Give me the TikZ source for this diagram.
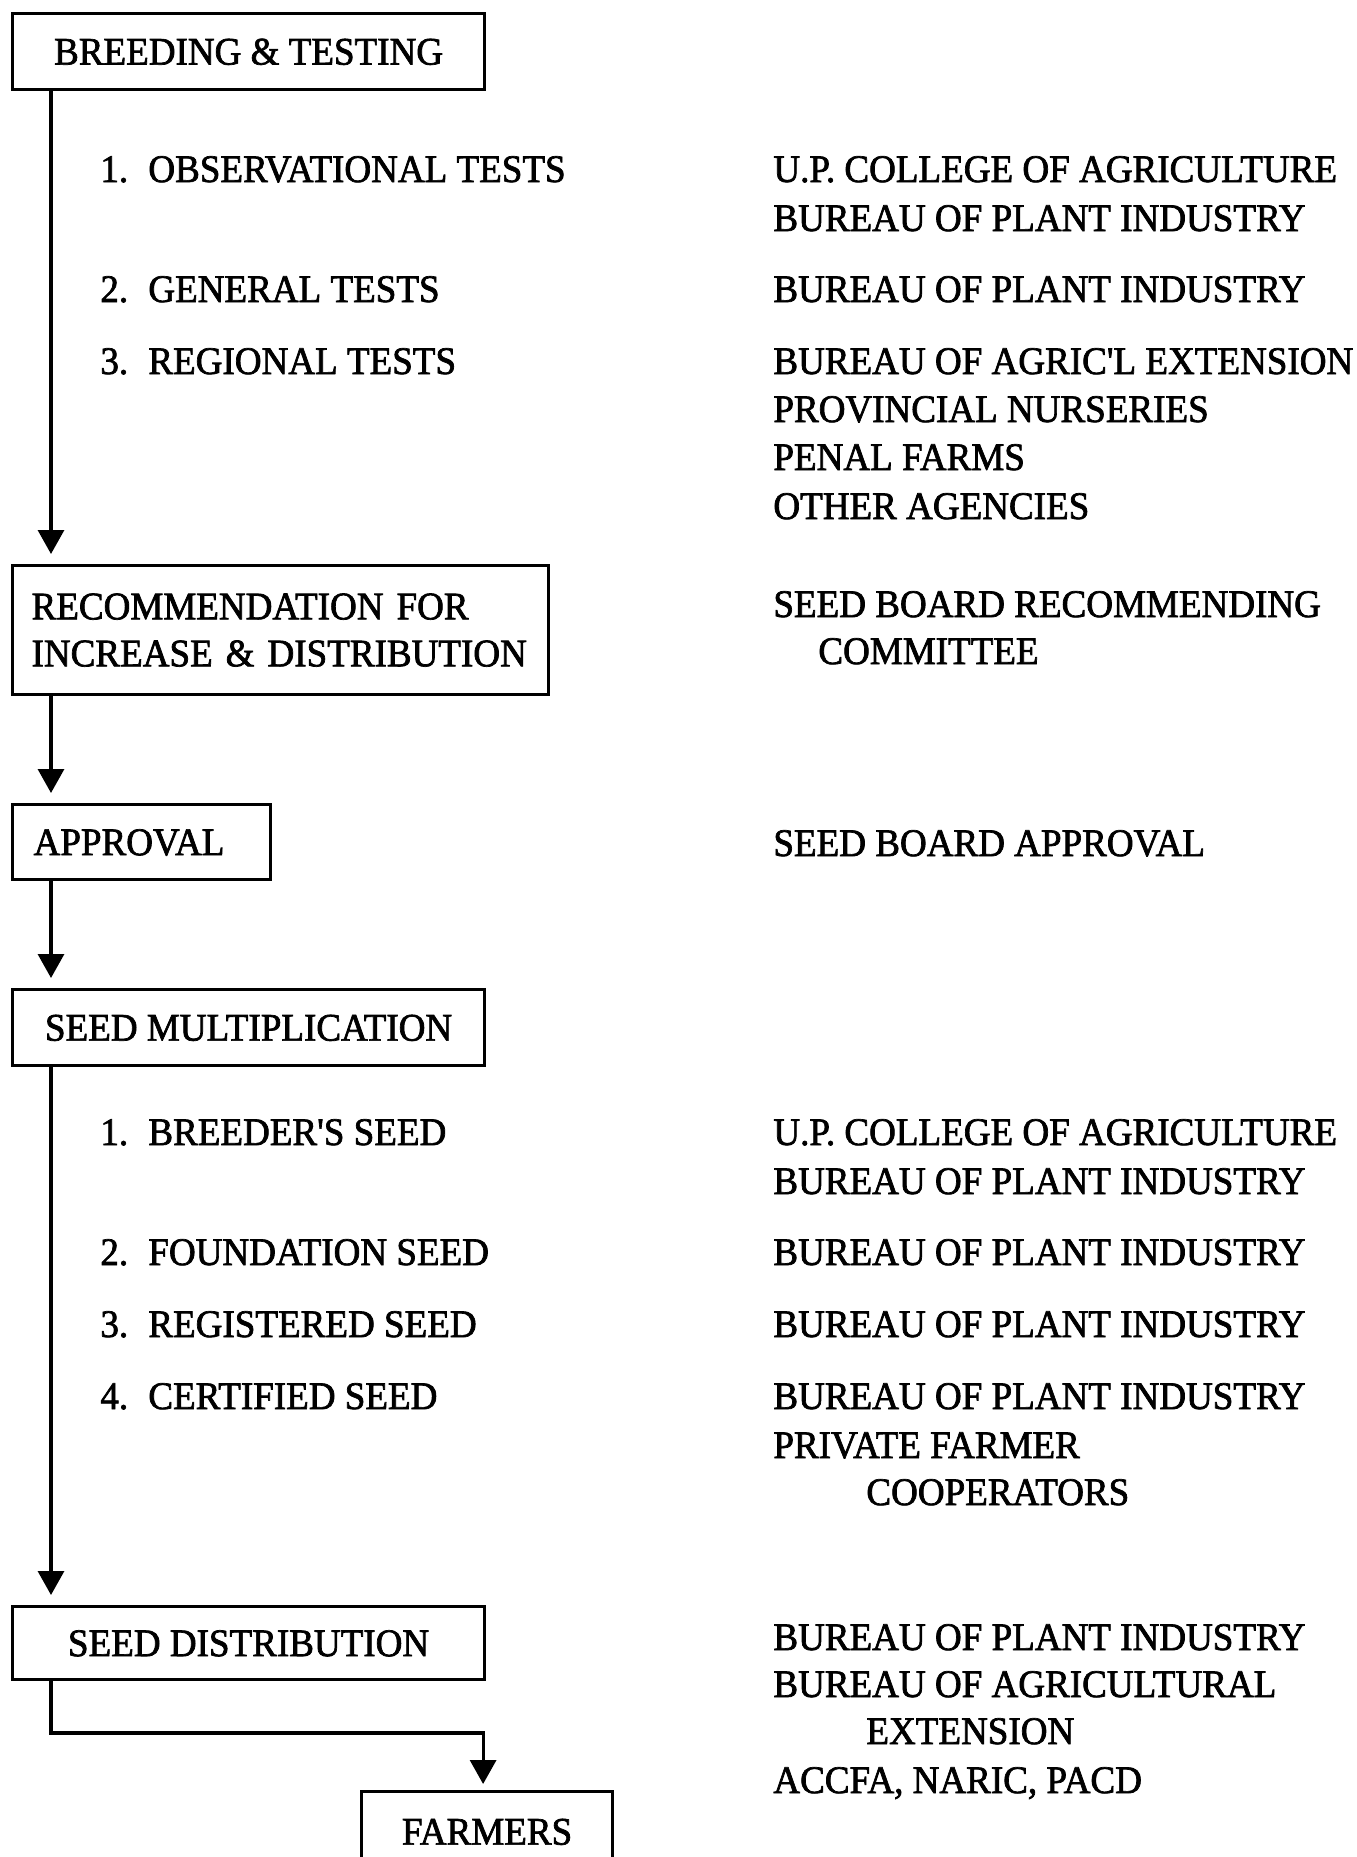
\documentclass[tikz,border=0pt]{standalone}
\usepackage{fontspec}
\setmainfont{Liberation Serif}[FakeStretch=0.95, FakeBold=1.8, Ligatures=TeXOff]
\usetikzlibrary{arrows.meta,calc}
\begin{document}
\begin{tikzpicture}[x=0.5pt,y=-0.5pt,
  font=\fontsize{19.5pt}{23.5pt}\selectfont,
  boxbase/.style={draw, line width=1.6pt, inner sep=0pt, anchor=north west},
  box/.style={boxbase, text height=13pt, text depth=0pt},
  lbl/.style={anchor=base west, inner sep=0pt},
  arr/.style={line width=1.6pt, -{Triangle[width=13pt,length=12pt]}}]
\useasboundingbox (0,0) rectangle (1356,1857);
\clip (0,0) rectangle (1356,1857);

% boxes
\node[box, minimum width=236pt, minimum height=38pt] (bt) at (11,12) {BREEDING \& TESTING};
\node[boxbase, minimum height=64.5pt, text width=249pt, inner xsep=9.5pt, align=left] (rec) at (11,564) {RECOMMENDATION FOR\\INCREASE \& DISTRIBUTION};
\node[box, minimum height=37.5pt, text width=108pt, inner xsep=10.5pt, align=left] (app) at (11,803) {APPROVAL};
\node[box, minimum width=236pt, minimum height=38pt] (sm) at (11,988) {SEED MULTIPLICATION};
\node[box, minimum width=236pt, minimum height=36.5pt] (sd) at (11,1605) {SEED DISTRIBUTION};
\node[box, minimum width=125.5pt, minimum height=40pt] (fa) at (360,1790) {FARMERS};

% connectors
\draw[arr] ([xshift=20pt]bt.south west) -- ([xshift=20pt,yshift=5pt]rec.north west);
\draw[arr] ([xshift=20pt]rec.south west) -- ([xshift=20pt,yshift=5pt]app.north west);
\draw[arr] ([xshift=20pt]app.south west) -- ([xshift=20pt,yshift=5pt]sm.north west);
\draw[arr] ([xshift=20pt]sm.south west) -- ([xshift=20pt,yshift=5pt]sd.north west);
\coordinate (bend) at (51,1733);
\draw[arr] ([xshift=20pt]sd.south west) -- (bend) -| ([xshift=-2pt,yshift=3pt]fa.north);

% stage items
\node[lbl] (t1) at (100,182) {\makebox[24pt][l]{1.}OBSERVATIONAL TESTS};
\node[lbl] (t2) at (100,302) {\makebox[24pt][l]{2.}GENERAL TESTS};
\node[lbl] (t3) at (100,374) {\makebox[24pt][l]{3.}REGIONAL TESTS};

\node[lbl] (s1) at (100,1145) {\makebox[24pt][l]{1.}BREEDER'S SEED};
\node[lbl] (s2) at (100,1265) {\makebox[24pt][l]{2.}FOUNDATION SEED};
\node[lbl] (s3) at (100,1337) {\makebox[24pt][l]{3.}REGISTERED SEED};
\node[lbl] (s4) at (100,1409) {\makebox[24pt][l]{4.}CERTIFIED SEED};

% agencies
\node[lbl] (a1) at (773,182) {U.P. COLLEGE OF AGRICULTURE};
\node[lbl] (a2) at (773,231) {BUREAU OF PLANT INDUSTRY};
\node[lbl] (a3) at (773,302) {BUREAU OF PLANT INDUSTRY};
\node[lbl] (a4) at (773,374) {BUREAU OF AGRIC'L EXTENSION};
\node[lbl] (a5) at (773,422) {PROVINCIAL NURSERIES};
\node[lbl] (a6) at (773,470) {PENAL FARMS};
\node[lbl] (a7) at (773,519) {OTHER AGENCIES};

\node[lbl] (r1) at (773,617) {SEED BOARD RECOMMENDING};
\node[lbl] (r2) at (818,664) {COMMITTEE};

\node[lbl] (p1) at (773,856) {SEED BOARD APPROVAL};

\node[lbl] (m1) at (773,1145) {U.P. COLLEGE OF AGRICULTURE};
\node[lbl] (m2) at (773,1194) {BUREAU OF PLANT INDUSTRY};
\node[lbl] (m3) at (773,1265) {BUREAU OF PLANT INDUSTRY};
\node[lbl] (m4) at (773,1337) {BUREAU OF PLANT INDUSTRY};
\node[lbl] (m5) at (773,1409) {BUREAU OF PLANT INDUSTRY};
\node[lbl] (m6) at (773,1458) {PRIVATE FARMER};
\node[lbl] (m7) at (866,1505) {COOPERATORS};

\node[lbl] (d1) at (773,1650) {BUREAU OF PLANT INDUSTRY};
\node[lbl] (d2) at (773,1697) {BUREAU OF AGRICULTURAL};
\node[lbl] (d3) at (866,1744) {EXTENSION};
\node[lbl] (d4) at (773,1793) {ACCFA, NARIC, PACD};
\end{tikzpicture}
\end{document}
